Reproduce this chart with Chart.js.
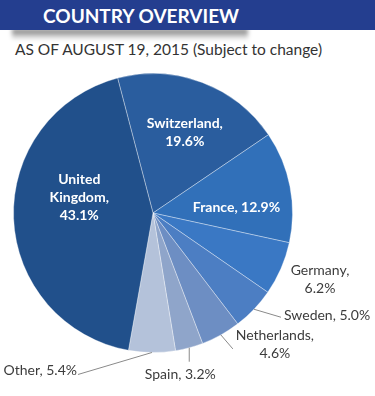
<!DOCTYPE html>
<html>
<head>
<meta charset="utf-8">
<script src="https://cdn.jsdelivr.net/npm/chart.js@4"></script>
<style>
  html, body { margin: 0; padding: 0; background: #fff; }
  body { width: 375px; height: 396px; position: relative; overflow: hidden; font-family: Lato, "DejaVu Sans", sans-serif; }
  #bar {
    position: absolute; left: 0; top: 0; width: 375px; height: 30px;
    background: #243e8f; color: #fff; font-weight: bold; font-size: 19px;
    line-height: 32px; padding-left: 43px; box-sizing: border-box; z-index: 2;
  }
  #shadow {
    position: absolute; left: 12px; top: 29px; width: 236px; height: 11px;
    background: linear-gradient(to bottom, rgba(0,0,0,0.55), rgba(0,0,0,0));
    filter: blur(2px); z-index: 1;
  }
  #sub {
    position: absolute; left: 15px; top: 40px; font-size: 15.5px; color: #333;
    white-space: nowrap;
  }
  #wrap { position: absolute; left: 0; top: 60px; width: 375px; height: 336px; }
</style>
</head>
<body>
<div id="bar">COUNTRY OVERVIEW</div>
<div id="shadow"></div>
<div id="sub">AS OF AUGUST 19, 2015 (Subject to change)</div>
<div id="wrap"><canvas id="pieChart"></canvas></div>
<script>
// Share of investment by country, clockwise from the top
const countries = ["Switzerland", "France", "Germany", "Sweden", "Netherlands", "Spain", "Other", "United Kingdom"];
const shares = [19.6, 12.9, 6.2, 5.0, 4.6, 3.2, 5.4, 43.1];
const sliceColors = ["#2a5d9e", "#3170b9", "#3a78c4", "#4c7ec3", "#6d8ec3", "#8fa5ca", "#b4c2da", "#21508b"];

// How each label is placed (inside the slice, or outside with a leader line)
const labelLayout = {
  "Switzerland":    { inside: true, lines: ["Switzerland,", "%"], frac: 0.62, turn: 1 },
  "France":         { inside: true, lines: ["France, %"], frac: 0.6, turn: 7 },
  "United Kingdom": { inside: true, lines: ["United", "Kingdom,", "%"], frac: 0.54, turn: 14 },
  "Germany":        { lines: ["Germany,", "%"], text: [167, 66], align: "center" },
  "Sweden":         { lines: ["Sweden, %"], lead: [27, 8], text: [30, 6], align: "left" },
  "Netherlands":    { lines: ["Netherlands,", "%"], lead: [12, 14], text: [54, 10], align: "center" },
  "Spain":          { lines: ["Spain, %"], lead: [0, 14], text: [-9, 27], align: "center" },
  "Other":          { lines: ["Other, %"], lead: [-74, 22], text: [-75, 18], align: "right" }
};

const sliceLabels = {
  id: "sliceLabels",
  afterDatasetsDraw(chart) {
    const ctx = chart.ctx;
    const arcs = chart.getDatasetMeta(0).data;
    ctx.save();
    arcs.forEach((arc, i) => {
      const name = countries[i];
      const cfg = labelLayout[name];
      const p = arc.getProps(["x", "y", "startAngle", "endAngle", "outerRadius"], true);
      const mid = (p.startAngle + p.endAngle) / 2;
      const lines = cfg.lines.map(l => l.replace("%", shares[i].toFixed(1) + "%"));
      let tx, ty;
      if (cfg.inside) {
        const a = mid + cfg.turn * Math.PI / 180;
        tx = p.x + Math.cos(a) * p.outerRadius * cfg.frac;
        ty = p.y + Math.sin(a) * p.outerRadius * cfg.frac;
        ctx.fillStyle = "#ffffff";
        ctx.font = "bold 14px Lato, sans-serif";
        ctx.textAlign = "center";
        const lh = 18;
        ty -= (lines.length - 1) * lh / 2;
        ctx.textBaseline = "middle";
        lines.forEach((l, k) => ctx.fillText(l, tx, ty + k * lh));
        return;
      }
      const ex = p.x + Math.cos(mid) * p.outerRadius;
      const ey = p.y + Math.sin(mid) * p.outerRadius;
      if (cfg.lead) {
        ctx.strokeStyle = "#8a8a8a";
        ctx.lineWidth = 1;
        ctx.beginPath();
        ctx.moveTo(ex, ey);
        ctx.lineTo(ex + cfg.lead[0], ey + cfg.lead[1]);
        ctx.stroke();
        tx = ex + cfg.text[0];
        ty = ey + cfg.text[1];
      } else {
        tx = p.x + cfg.text[0];
        ty = p.y + cfg.text[1];
      }
      ctx.fillStyle = "#3c3c3c";
      ctx.font = "14px Lato, sans-serif";
      ctx.textBaseline = "middle";
      const lh = 18;
      if (cfg.align === "center" && lines.length > 1) ty -= (lines.length - 1) * lh / 2;
      ctx.textAlign = cfg.align;
      lines.forEach((l, k) => ctx.fillText(l, tx, ty + k * lh));
    });
    ctx.restore();
  }
};

const pieCanvas = document.getElementById("pieChart").getContext("2d");

new Chart(pieCanvas, {
  type: "pie",
  data: {
    labels: countries,
    datasets: [{
      data: shares,
      backgroundColor: sliceColors,
      borderColor: "rgba(255,255,255,0.35)",
      borderWidth: 1
    }]
  },
  options: {
    responsive: true,
    maintainAspectRatio: false,
    animation: false,
    rotation: -14.7, // first slice starts just left of 12 o'clock
    layout: { padding: { left: 13, top: 13, right: 82, bottom: 43 } },
    plugins: {
      legend: { display: false },
      tooltip: { enabled: false }
    }
  },
  plugins: [sliceLabels]
});
</script>
</body>
</html>
